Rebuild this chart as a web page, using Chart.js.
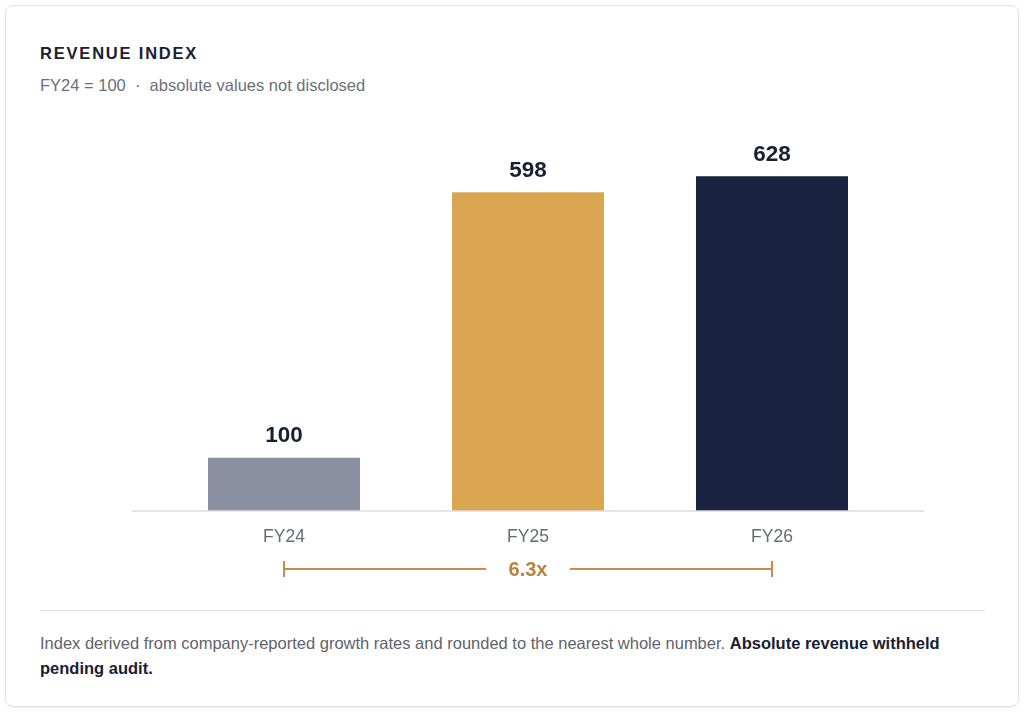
<!DOCTYPE html>
<html>
<head>
<meta charset="utf-8">
<script src="https://cdn.jsdelivr.net/npm/chart.js@4.4.1/dist/chart.umd.min.js"></script>
<style>
    html, body { margin: 0; padding: 0; background: #fff; }
    body { width: 1024px; height: 713px; position: relative; overflow: hidden;
           font-family: "Helvetica Neue", Arial, "Liberation Sans", sans-serif; }
    .card { position: absolute; left: 5px; top: 5px; width: 1012px; height: 700px;
            border: 1px solid #e3e3e3; border-radius: 8px; box-shadow: 0 1px 2px rgba(0,0,0,0.06); }
    .title { position: absolute; left: 40px; top: 44px; font-size: 16.5px; font-weight: bold;
             letter-spacing: 1.8px; color: #1a2033; }
    .subtitle { position: absolute; left: 40px; top: 76px; font-size: 16.5px; color: #6b6f78; }
    .chart-box { position: absolute; left: 132px; top: 110px; width: 792px; height: 490px; }
    .divider { position: absolute; left: 40px; top: 610px; width: 945px; height: 1px; background: #e2e2e2; }
    .footer { position: absolute; left: 40px; top: 631px; width: 945px; font-size: 16.5px;
              line-height: 25px; color: #5f636c; }
    .footer b { color: #1a2033; }
</style>
</head>
<body>
<div class="card"></div>
<div class="title">REVENUE INDEX</div>
<div class="subtitle">FY24 = 100 &nbsp;·&nbsp; absolute values not disclosed</div>
<div class="chart-box"><canvas id="revenueChart"></canvas></div>
<div class="divider"></div>
<div class="footer">Index derived from company-reported growth rates and rounded to the nearest whole number. <b>Absolute revenue withheld pending audit.</b></div>

<script>
const years   = ['FY24', 'FY25', 'FY26'];
const indexValues = [100, 598, 628];
const barColors   = ['#8a90a2', '#dba651', '#1a2340'];
const bracketColor = '#c38d4b';
const fontStack = '"Helvetica Neue", Arial, "Liberation Sans", sans-serif';

// 値ラベル（棒の上）
const valueLabels = {
    id: 'valueLabels',
    afterDatasetsDraw(chart) {
        const ctx = chart.ctx;
        const meta = chart.getDatasetMeta(0);
        ctx.save();
        ctx.font = 'bold 22.5px ' + fontStack;
        ctx.fillStyle = '#1a2033';
        ctx.textAlign = 'center';
        ctx.textBaseline = 'middle';
        meta.data.forEach((bar, i) => {
            ctx.fillText(String(indexValues[i]), bar.x, bar.y - 22);
        });
        ctx.restore();
    }
};

// ベースラインと倍率ブラケット
const baseAndBracket = {
    id: 'baseAndBracket',
    afterDraw(chart) {
        const ctx = chart.ctx;
        const y0 = chart.scales.y.getPixelForValue(0);
        ctx.save();
        ctx.strokeStyle = '#dcdcdc';
        ctx.lineWidth = 1.5;
        ctx.beginPath();
        ctx.moveTo(0, y0);
        ctx.lineTo(chart.width, y0);
        ctx.stroke();

        const meta = chart.getDatasetMeta(0);
        const x1 = meta.data[0].x;
        const x2 = meta.data[meta.data.length - 1].x;
        const xm = (x1 + x2) / 2;
        const by = y0 + 58;
        const ratio = (indexValues[indexValues.length - 1] / indexValues[0]).toFixed(1) + 'x';

        ctx.strokeStyle = bracketColor;
        ctx.lineWidth = 2;
        ctx.beginPath();
        ctx.moveTo(x1, by); ctx.lineTo(xm - 42, by);
        ctx.moveTo(xm + 42, by); ctx.lineTo(x2, by);
        ctx.moveTo(x1, by - 8); ctx.lineTo(x1, by + 8);
        ctx.moveTo(x2, by - 8); ctx.lineTo(x2, by + 8);
        ctx.stroke();

        ctx.font = 'bold 20px ' + fontStack;
        ctx.fillStyle = '#b9843f';
        ctx.textAlign = 'center';
        ctx.textBaseline = 'middle';
        ctx.fillText(ratio, xm, by + 1);
        ctx.restore();
    }
};

new Chart(document.getElementById('revenueChart').getContext('2d'), {
    type: 'bar',
    data: {
        labels: years,
        datasets: [{
            data: indexValues,
            backgroundColor: barColors,
            borderWidth: 0,
            categoryPercentage: 1,
            barPercentage: 0.623
        }]
    },
    options: {
        responsive: true,
        maintainAspectRatio: false,
        animation: false,
        layout: { padding: { left: 30, right: 30, top: 28, bottom: 36 } },
        plugins: {
            legend: { display: false },
            tooltip: { enabled: false }
        },
        scales: {
            x: {
                grid: { display: false, drawTicks: false },
                border: { display: false },
                ticks: {
                    color: '#656a73',
                    padding: 16,
                    font: { size: 17.5, family: fontStack }
                }
            },
            y: {
                display: false,
                beginAtZero: true,
                min: 0,
                max: 700
            }
        }
    },
    plugins: [valueLabels, baseAndBracket]
});
</script>
</body>
</html>
